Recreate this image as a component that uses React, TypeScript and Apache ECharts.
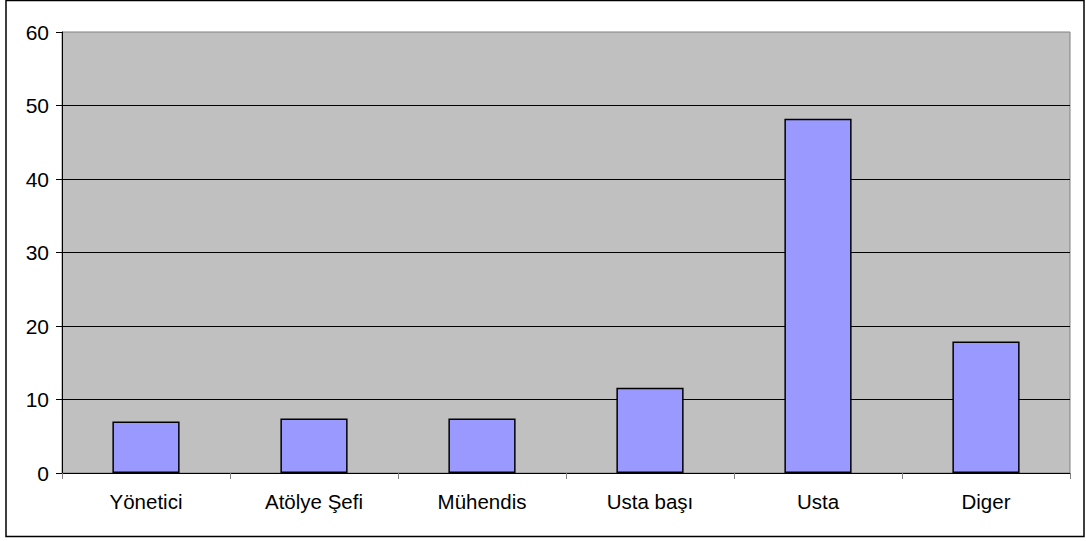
import React, { useEffect, useRef } from "react";
import * as echarts from "echarts";

const categories = ["Yönetici", "Atölye Şefi", "Mühendis", "Usta başı", "Usta", "Diger"];
const values = [7.0, 7.4, 7.4, 11.6, 48.2, 17.9];
const yMin = 0;
const yMax = 60;
const yInterval = 10;

const FONT = "'Liberation Sans', Arial, sans-serif";

export default function App() {
  const ref = useRef<HTMLDivElement>(null);
  useEffect(() => {
    if (!ref.current) return;
    const chart = echarts.init(ref.current, null, { renderer: "svg" });
    chart.setOption({
      animation: false,
      backgroundColor: "#ffffff",
      textStyle: { fontFamily: FONT },
      graphic: [
        {
          type: "rect",
          shape: { x: 6, y: 0.5, width: 1078, height: 536 },
          style: { fill: "none", stroke: "#000000", lineWidth: 1.5 },
          silent: true,
        },
      ],
      grid: {
        left: 62,
        right: 16,
        top: 32,
        bottom: 68,
        show: true,
        backgroundColor: "#C0C0C0",
        borderColor: "#808080",
        borderWidth: 1,
      },
      xAxis: {
        type: "category",
        data: categories,
        boundaryGap: true,
        axisLine: { show: true, lineStyle: { color: "#000000", width: 1 } },
        axisTick: { show: true, alignWithLabel: false, length: 6, lineStyle: { color: "#808080" } },
        axisLabel: { color: "#000000", fontSize: 20.5, fontFamily: FONT, margin: 18, interval: 0 },
        splitLine: { show: false },
      },
      yAxis: {
        type: "value",
        min: yMin,
        max: yMax,
        interval: yInterval,
        axisLine: { show: true, lineStyle: { color: "#000000", width: 1 } },
        axisTick: { show: true, length: 6, lineStyle: { color: "#000000" } },
        axisLabel: { color: "#000000", fontSize: 21, fontFamily: FONT, margin: 13 },
        splitLine: {
          show: true,
          showMaxLine: false,
          showMinLine: false,
          lineStyle: { color: "#000000", width: 1 },
        },
      },
      series: [
        {
          type: "bar",
          data: values,
          barWidth: "40%",
          itemStyle: { color: "#9999FF", borderColor: "#000000", borderWidth: 1.5 },
        },
      ],
    });
    return () => chart.dispose();
  }, []);
  return (
    <div
      ref={ref}
      style={{ position: "absolute", left: 0, top: 0, width: 1086, height: 541 }}
    />
  );
}
